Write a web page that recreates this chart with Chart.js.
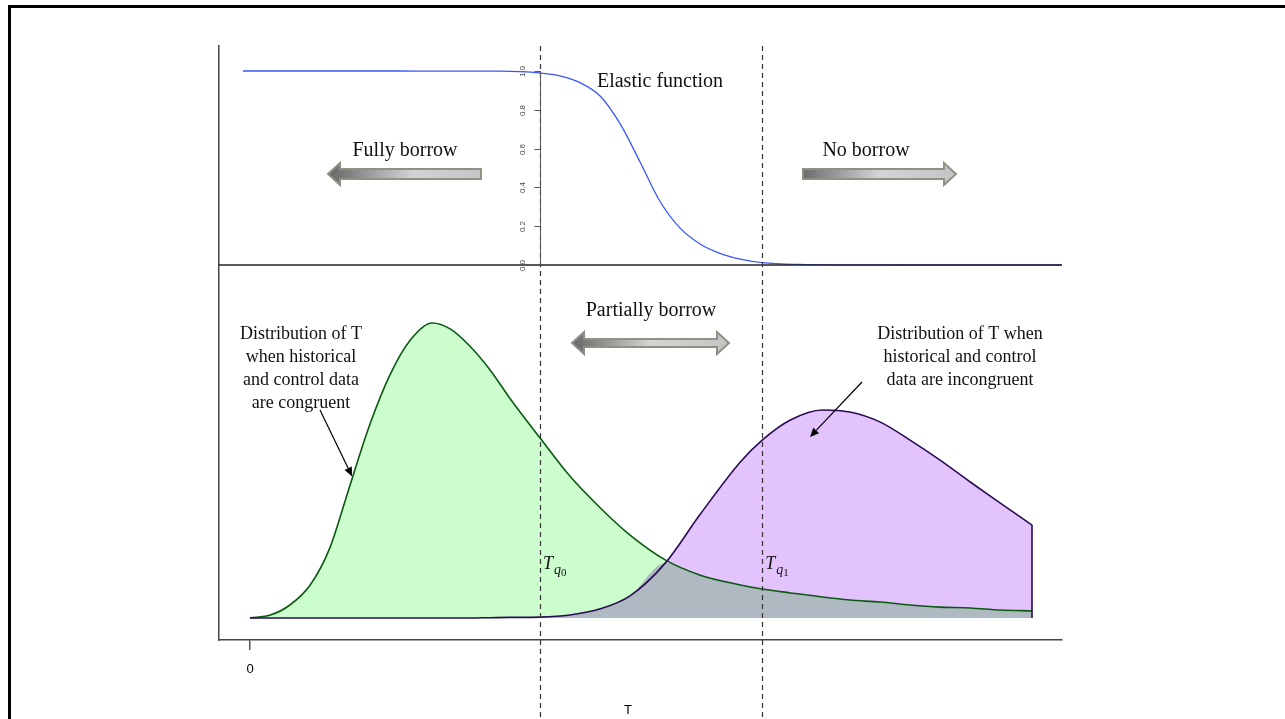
<!DOCTYPE html>
<html>
<head>
<meta charset="utf-8">
<script src="https://cdn.jsdelivr.net/npm/chart.js@4.4.1/dist/chart.umd.min.js"></script>
<style>
  html, body { margin: 0; padding: 0; background: #fff; overflow: hidden; }
  #wrap { position: relative; width: 1285px; height: 719px; }
  #frame { position: absolute; left: 8px; top: 5px; width: 1290px; height: 730px;
           border-top: 3px solid #000; border-left: 3px solid #000; pointer-events: none; }
  canvas { position: absolute; left: 0; top: 0; }
</style>
</head>
<body>
<div id="wrap">
  <canvas id="c" width="1285" height="719"></canvas>
  <div id="frame"></div>
</div>
<script>
// ---- data ----
const tValues = [0, 0.26, 0.51, 0.77, 1.02, 1.28, 1.53, 1.79, 2.05, 2.33, 2.56, 2.81, 3.07, 3.32, 3.71, 4.09, 4.48, 4.86, 5.31, 5.75, 6.27, 6.55, 6.91, 7.32, 7.67, 8.06, 8.44, 8.82, 9.21, 9.59, 10.0];
const congruentDensity = [0, 0.010, 0.044, 0.112, 0.237, 0.451, 0.654, 0.824, 0.942, 1.000, 0.980, 0.922, 0.841, 0.746, 0.610, 0.481, 0.373, 0.281, 0.197, 0.146, 0.112, 0.098, 0.085, 0.071, 0.061, 0.054, 0.044, 0.037, 0.034, 0.027, 0.024];
const incongruentDensity = [0, 0, 0, 0, 0, 0, 0, 0, 0, 0, 0, 0, 0.001, 0.002, 0.003, 0.010, 0.031, 0.075, 0.186, 0.349, 0.529, 0.603, 0.671, 0.705, 0.698, 0.664, 0.603, 0.536, 0.461, 0.390, 0.315];
const elasticT = [-0.09, 1.92, 3.20, 3.45, 3.71, 3.96, 4.22, 4.48, 4.73, 4.99, 5.24, 5.50, 5.75, 6.01, 6.27, 6.55, 7.03, 7.67, 8.31, 10.38];
const elasticWeight = [1, 1, 0.999, 0.997, 0.99, 0.975, 0.94, 0.87, 0.73, 0.53, 0.33, 0.19, 0.11, 0.06, 0.03, 0.012, 0.003, 0.001, 0, 0];
const elasticTicks = [0, 0.2, 0.4, 0.6, 0.8, 1.0];
const thresholds = [3.71, 6.55];          // T_q0, T_q1
const thresholdLabels = ['0', '1'];
const xTicks = [0];

// ---- build datasets from arrays ----
const pts = (xs, ys) => xs.map((x, i) => ({ x: x, y: ys[i] }));
const overlapDensity = congruentDensity.map((v, i) => Math.min(v, incongruentDensity[i]));
const lastI = tValues.length - 1;

const X_MIN = -0.3964, X_MAX = 10.3836;

function arrowShape(ctx, x0, x1, cy, hl, hh, sh, leftHead, rightHead) {
  ctx.beginPath();
  if (leftHead) {
    ctx.moveTo(x0, cy);
    ctx.lineTo(x0 + hl, cy - hh);
    ctx.lineTo(x0 + hl, cy - sh);
  } else {
    ctx.moveTo(x0, cy - sh);
  }
  if (rightHead) {
    ctx.lineTo(x1 - hl, cy - sh);
    ctx.lineTo(x1 - hl, cy - hh);
    ctx.lineTo(x1, cy);
    ctx.lineTo(x1 - hl, cy + hh);
    ctx.lineTo(x1 - hl, cy + sh);
  } else {
    ctx.lineTo(x1, cy - sh);
    ctx.lineTo(x1, cy + sh);
  }
  if (leftHead) {
    ctx.lineTo(x0 + hl, cy + sh);
    ctx.lineTo(x0 + hl, cy + hh);
  } else {
    ctx.lineTo(x0, cy + sh);
  }
  ctx.closePath();
}

function blockArrow(ctx, x0, x1, cy, leftHead, rightHead, stops, sh) {
  const g = ctx.createLinearGradient(x0, 0, x1, 0);
  stops.forEach(s => g.addColorStop(s[0], s[1]));
  arrowShape(ctx, x0, x1, cy, 12, 11, sh, leftHead, rightHead);
  ctx.fillStyle = g;
  ctx.fill();
  ctx.strokeStyle = '#8d9284';
  ctx.lineWidth = 2;
  ctx.stroke();
}

function lineArrow(ctx, x0, y0, x1, y1) {
  ctx.strokeStyle = '#000'; ctx.fillStyle = '#000'; ctx.lineWidth = 1.2;
  const a = Math.atan2(y1 - y0, x1 - x0);
  const L = 9, W = 4;
  const bx = x1 - L * Math.cos(a), by = y1 - L * Math.sin(a);
  ctx.beginPath(); ctx.moveTo(x0, y0); ctx.lineTo(bx, by); ctx.stroke();
  ctx.beginPath();
  ctx.moveTo(x1, y1);
  ctx.lineTo(bx + W * Math.sin(a), by - W * Math.cos(a));
  ctx.lineTo(bx - W * Math.sin(a), by + W * Math.cos(a));
  ctx.closePath(); ctx.fill();
}

const overlay = {
  id: 'overlay',
  afterDatasetsDraw(chart) {
    const { ctx, chartArea, scales } = chart;
    const x = scales.x, ye = scales.ye, yd = scales.yd;
    ctx.save();
    // dashed threshold lines
    ctx.strokeStyle = '#333'; ctx.lineWidth = 1.2; ctx.setLineDash([5, 4]);
    thresholds.forEach(t => {
      const px = Math.round(x.getPixelForValue(t)) + 0.5;
      ctx.beginPath(); ctx.moveTo(px, chartArea.top); ctx.lineTo(px, chart.height); ctx.stroke();
    });
    ctx.setLineDash([]);

    // elastic-function axis (at T_q0)
    const ax = Math.round(x.getPixelForValue(thresholds[0])) + 0.5;
    ctx.strokeStyle = '#555'; ctx.lineWidth = 1;
    ctx.beginPath();
    ctx.moveTo(ax, ye.getPixelForValue(elasticTicks[elasticTicks.length - 1]));
    ctx.lineTo(ax, ye.getPixelForValue(elasticTicks[0]));
    ctx.stroke();
    ctx.fillStyle = '#444';
    ctx.font = '8px "Liberation Sans", Arial, sans-serif';
    ctx.textAlign = 'center'; ctx.textBaseline = 'middle';
    elasticTicks.forEach(v => {
      const py = Math.round(ye.getPixelForValue(v)) + 0.5;
      ctx.beginPath(); ctx.moveTo(ax - 6, py); ctx.lineTo(ax, py); ctx.stroke();
      ctx.save();
      ctx.translate(ax - 18, py);
      ctx.rotate(-Math.PI / 2);
      ctx.fillText(v.toFixed(1), 0, 0);
      ctx.restore();
    });

    // block arrows
    blockArrow(ctx, 328, 481, 174, true, false,
      [[0, '#666'], [0.55, '#d2d2d2'], [1, '#c6c6c6']], 5);
    blockArrow(ctx, 803, 956, 174, false, true,
      [[0, '#6c6c6c'], [0.5, '#d4d4d4'], [1, '#c4c4c4']], 5);
    blockArrow(ctx, 572, 729, 343, true, true,
      [[0, '#666'], [0.5, '#d4d4d4'], [1, '#c4c4c4']], 4);

    // pointer arrows to curves
    lineArrow(ctx, 320, 410, x.getPixelForValue(tValues[5]) + 2, yd.getPixelForValue(0.48));
    lineArrow(ctx, 862, 382, 810, 437);

    // text
    ctx.fillStyle = '#111';
    ctx.textAlign = 'center'; ctx.textBaseline = 'middle';
    ctx.font = '20px "Liberation Serif", "Times New Roman", serif';
    ctx.fillText('Elastic function', 660, 82);
    ctx.fillText('Fully borrow', 405, 151);
    ctx.fillText('No borrow', 866, 151);
    ctx.fillText('Partially borrow', 651, 311);

    ctx.font = '18px "Liberation Serif", "Times New Roman", serif';
    ['Distribution of T', 'when historical', 'and control data', 'are congruent']
      .forEach((s, i) => ctx.fillText(s, 301, 334 + i * 23));
    ['Distribution of T when', 'historical and control', 'data are incongruent']
      .forEach((s, i) => ctx.fillText(s, 960, 334 + i * 23));

    // T_q labels
    ctx.textAlign = 'left'; ctx.textBaseline = 'alphabetic';
    thresholds.forEach((t, i) => {
      const px = x.getPixelForValue(t);
      ctx.font = 'italic 18px "Liberation Serif", "Times New Roman", serif';
      ctx.fillText('T', px + 3, 569);
      ctx.font = 'italic 14px "Liberation Serif", "Times New Roman", serif';
      ctx.fillText('q', px + 14, 574);
      ctx.font = '11px "Liberation Serif", "Times New Roman", serif';
      ctx.fillText(thresholdLabels[i], px + 21, 576);
    });

    // x axis title
    ctx.fillStyle = '#000';
    ctx.textAlign = 'center'; ctx.textBaseline = 'middle';
    ctx.font = '13px "Liberation Sans", Arial, sans-serif';
    ctx.fillText('T', 628, 710);
    ctx.restore();
  }
};

new Chart(document.getElementById('c'), {
  type: 'line',
  data: {
    datasets: [
      { label: 'congruent fill', data: pts(tValues, congruentDensity), yAxisID: 'yd', order: 10,
        fill: 'origin', backgroundColor: '#ccfdcc', borderWidth: 0, pointRadius: 0, cubicInterpolationMode: 'monotone' },
      { label: 'incongruent fill', data: pts(tValues, incongruentDensity), yAxisID: 'yd', order: 9,
        fill: 'origin', backgroundColor: '#e2c3fc', borderWidth: 0, pointRadius: 0, cubicInterpolationMode: 'monotone' },
      { label: 'overlap', data: pts(tValues, overlapDensity), yAxisID: 'yd', order: 8,
        fill: 'origin', backgroundColor: '#aeb9c2', borderWidth: 0, pointRadius: 0, cubicInterpolationMode: 'monotone' },
      { label: 'congruent', data: pts(tValues, congruentDensity), yAxisID: 'yd', order: 7,
        fill: false, borderColor: '#0a5a12', borderWidth: 1.6, pointRadius: 0, cubicInterpolationMode: 'monotone' },
      { label: 'incongruent', data: pts(tValues, incongruentDensity), yAxisID: 'yd', order: 6,
        fill: false, borderColor: '#2a0b55', borderWidth: 1.6, pointRadius: 0, cubicInterpolationMode: 'monotone' },
      { label: 'incongruent edge', data: [{ x: tValues[lastI], y: incongruentDensity[lastI] }, { x: tValues[lastI], y: 0 }],
        yAxisID: 'yd', order: 5, fill: false, borderColor: '#2a0b55', borderWidth: 1.6, pointRadius: 0, tension: 0 },
      { label: 'elastic', data: pts(elasticT, elasticWeight), yAxisID: 'ye', order: 4,
        fill: false, borderColor: '#3a55ff', borderWidth: 1.3, pointRadius: 0, cubicInterpolationMode: 'monotone' },
      { label: 'divider', data: [{ x: X_MIN, y: 0 }, { x: X_MAX, y: 0 }], yAxisID: 'ye', order: 3,
        fill: false, borderColor: '#222', borderWidth: 1.5, pointRadius: 0, tension: 0 }
    ]
  },
  options: {
    responsive: false,
    animation: false,
    events: [],
    layout: { padding: { left: 219, top: 46, right: 223, bottom: 0 } },
    plugins: { legend: { display: false }, tooltip: { enabled: false } },
    scales: {
      x: {
        type: 'linear', min: X_MIN, max: X_MAX,
        afterBuildTicks: s => { s.ticks = xTicks.map(v => ({ value: v })); },
        afterFit: s => { s.height = 79; },
        ticks: { color: '#000', font: { family: '"Liberation Sans", Arial, sans-serif', size: 13 }, padding: 12,
                 maxRotation: 0, callback: v => String(v) },
        grid: { drawOnChartArea: false, drawTicks: true, tickLength: 10, color: '#555', lineWidth: 1.5 },
        border: { display: true, color: '#444', width: 1.5 }
      },
      yd: {
        position: 'left', min: -0.0746, max: 1.939,
        afterFit: s => { s.width = 0; },
        ticks: { display: false },
        grid: { display: false, drawTicks: false },
        border: { display: true, color: '#444', width: 1.5 }
      },
      ye: { position: 'right', display: false, min: -1.933, max: 1.129 }
    }
  },
  plugins: [overlay]
});
</script>
</body>
</html>
